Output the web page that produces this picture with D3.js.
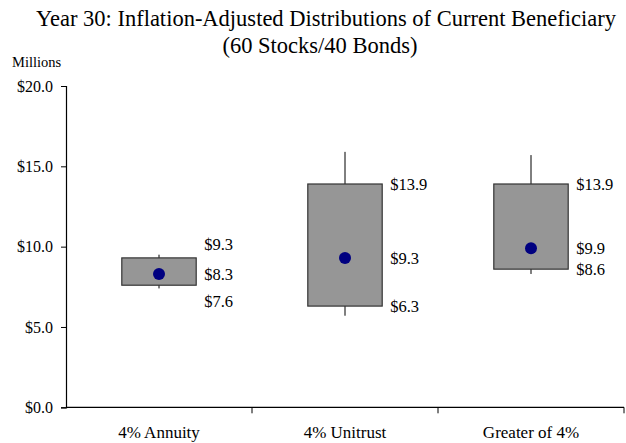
<!DOCTYPE html>
<html>
<head>
<meta charset="utf-8">
<script src="https://cdn.jsdelivr.net/npm/d3@7"></script>
<style>
  html, body { margin: 0; padding: 0; background: #fff; }
  svg { display: block; font-family: "Liberation Serif", "Times New Roman", serif; }
</style>
</head>
<body>
<svg id="chart" width="626" height="443"></svg>
<script>
// Year-30 distributions, in millions of dollars
const categories = ["4% Annuity", "4% Unitrust", "Greater of 4%"];
const whiskerLow  = [7.4, 5.7, 8.3];
const boxLow      = [7.6, 6.3, 8.6];
const meanValue   = [8.3, 9.3, 9.9];
const boxHigh     = [9.3, 13.9, 13.9];
const whiskerHigh = [9.5, 15.9, 15.7];
const yTicks = [0, 5, 10, 15, 20];

const svg = d3.select("#chart");
const plotLeft = 66, plotRight = 624, plotTop = 86, plotBottom = 407.3;

const x = d3.scaleBand().domain(categories).range([plotLeft, plotRight]).padding(0);
const y = d3.scaleLinear().domain([0, 20]).range([plotBottom, plotTop]);
const fmt = v => "$" + d3.format(".1f")(v);

// title
const title = svg.append("text").attr("text-anchor", "middle").attr("font-size", 22.5).attr("fill", "#000");
title.append("tspan").attr("x", 326).attr("y", 26).text("Year 30: Inflation-Adjusted Distributions of Current Beneficiary");
title.append("tspan").attr("x", 320).attr("y", 53).text("(60 Stocks/40 Bonds)");

svg.append("text").attr("x", 12).attr("y", 67).attr("font-size", 14.5).text("Millions");

// y axis
const yAxis = svg.append("g").attr("transform", `translate(${plotLeft},0)`)
  .call(d3.axisLeft(y).tickValues(yTicks).tickFormat(fmt).tickSize(5).tickPadding(8));
yAxis.select(".domain").attr("stroke", "#000").attr("stroke-width", 1.2);
yAxis.selectAll("line").attr("stroke", "#000");
yAxis.selectAll("text").attr("font-size", 16).attr("font-family", "Liberation Serif, serif").attr("fill", "#000");

// x axis: ticks on band boundaries
const xAxis = svg.append("g").attr("transform", `translate(0,${plotBottom})`);
xAxis.append("line").attr("x1", plotLeft).attr("x2", plotRight).attr("y1", 0).attr("y2", 0)
  .attr("stroke", "#000").attr("stroke-width", 1.2);
const bounds = categories.map(c => x(c) + x.bandwidth());
xAxis.selectAll("line.tk").data(bounds).join("line").attr("class", "tk")
  .attr("x1", d => d).attr("x2", d => d).attr("y1", 0).attr("y2", 6).attr("stroke", "#000");
xAxis.selectAll("text").data(categories).join("text")
  .attr("x", c => x(c) + x.bandwidth() / 2).attr("y", 31)
  .attr("text-anchor", "middle").attr("font-size", 17).text(c => c);

// boxes
const boxW = x.bandwidth() * 0.4;
const rows = categories.map((c, i) => ({
  c, wl: whiskerLow[i], bl: boxLow[i], m: meanValue[i], bh: boxHigh[i], wh: whiskerHigh[i]
}));

const g = svg.append("g");
rows.forEach(d => {
  const cx = x(d.c) + x.bandwidth() / 2;
  g.append("line").attr("x1", cx).attr("x2", cx).attr("y1", y(d.wh)).attr("y2", y(d.wl))
    .attr("stroke", "#000").attr("stroke-width", 1);
  g.append("rect").attr("x", cx - boxW / 2).attr("y", y(d.bh))
    .attr("width", boxW).attr("height", y(d.bl) - y(d.bh))
    .attr("fill", "#969696").attr("stroke", "#333").attr("stroke-width", 1.2);
  g.append("circle").attr("cx", cx).attr("cy", y(d.m)).attr("r", 6).attr("fill", "#000080");

  // value labels; push the outer ones clear when they crowd the mean label
  const my = y(d.m);
  let hy = y(d.bh), ly = y(d.bl);
  if (my - hy < 18) hy = my - 30;
  if (ly - my < 18) ly = my + 27;
  const lx = cx + boxW / 2 + 8;
  [[d.bh, hy], [d.m, my], [d.bl, ly]].forEach(([v, ty]) => {
    g.append("text").attr("x", lx).attr("y", ty).attr("dy", "0.35em")
      .attr("font-size", 16.5).text(fmt(v));
  });
});
</script>
</body>
</html>
